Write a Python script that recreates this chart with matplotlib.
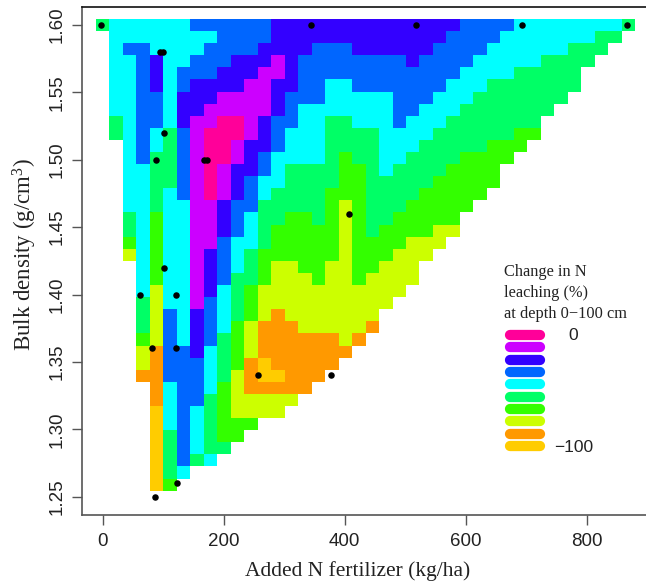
import numpy as np
import matplotlib
matplotlib.use("Agg")
from matplotlib import pyplot as plt
from matplotlib.colors import ListedColormap

W, H = 646, 583

plt.rcParams["font.family"] = ["Liberation Sans", "DejaVu Sans"]
plt.rcParams["mathtext.default"] = "regular"

# level per cell, top row (1.60) first, "." = no value. trailing blanks are left out
grid_rows = [
    "5 444444 333333 22222222222222 3333 44444444 5",
    ". 44444444 3333 2222222222222 3333 4444444 55",
    ". 4 33 4444 3333 2222 333 222222 3333 444444 555",
    ". 44 3 2 44 333 222 1 2 33333333 2 3333 44444 5555",
    ". 44 3 2 4 333 222 11 2 333333333333 4444 55555",
    ". 44 3 2 4 3 2222 11 22 33 44 3333333 444 5555555",
    ". 44 33 4 222 1111 2 333 44444 333 444 5555555",
    ". 44 33 4 22 11111 2 3 4444444 33 444 5555555",
    ". 5 4 33 4 2 11 00 1 2 33 44 55 444 3 444 5555555",
    ". 5 4 3 4 5 3 1 000 1 2 3 444 5555 4444 555555 66",
    ".. 4 3 4 5 3 1 00 1 22 3 444 5555 444 55555 666",
    ".. 4 3 55 3 1 00 1 2 3 4444 5 6 55 44 5555 6666",
    ".. 44 55 3 1 0 1 22 3 4 5555 66 5 4 5555 6666",
    ".. 44 55 3 1 0 1 2 3 44 5555 66 55555 66666",
    ".. 44 5 4 3 1 0 1 2 3 4 5555 666 5555 66666",
    ".. 44 5 44 11 2 33 55555 6 7 6 555 66666",
    ".. 5 4 6 44 11 2 3 4 55 66 5 6 7 6 55 66666",
    ".. 5 4 6 44 11 2 3 4 5 66666 7 6 5 6666 77",
    ".. 6 4 6 44 11 3 44 5 66666 7 6666 777",
    ".. 7 4 6 44 1 2 3 4 5 666666 7 666 777",
    "... 4 6 44 1 2 3 4 5 6 77 66 77 66 777",
    "... 4 6 44 1 2 3 55 6 777 6 77 6 7777",
    "... 4 7 44 1 2 4 5 6 77777777777",
    "... 5 7 44 1 3 4 5 6 7777777777",
    "... 5 7 3 4 2 3 4 5 6 7 8 7777777",
    "... 5 7 3 4 2 3 4 6 7 888 77777 8",
    "... 6 7 3 4 2 3 5 6 7 888888 7 8",
    "... 7 8 33 2 4 5 6 7 8888888",
    "... 7 8 333 4 5 6 8 9 88888",
    "... 8 8 333 4 5 7 8 99 888",
    ".... 8 4 33 4 6 7 88888",
    ".... 8 4 33 5 6 77777",
    ".... 9 4 3 4 5 6 7777",
    ".... 9 4 3 4 5 666",
    ".... 9 5 3 4 5 66",
    ".... 9 5 3 4 55",
    ".... 9 5 3 5 4",
    ".... 9 5 4",
    ".... 9 6",
    "",
]

level_colors = ["#FF0099", "#CC00FF", "#3300FF", "#0066FF", "#00FFFF",
                "#00FF66", "#33FF00", "#CCFF00", "#FF9900", "#FFCC00"]

point_x = [-2, 345, 518, 693, 866, 95, 99, 101, 88, 168, 173, 407,
           101, 61, 121, 82, 121, 257, 377, 123, 86]
point_y = [1.60, 1.60, 1.60, 1.60, 1.60, 1.58, 1.58, 1.52, 1.50, 1.50, 1.50, 1.46,
           1.42, 1.40, 1.40, 1.36, 1.36, 1.34, 1.34, 1.26, 1.25]

x_ticks = [0, 200, 400, 600, 800]
y_ticks = [1.25, 1.30, 1.35, 1.40, 1.45, 1.50, 1.55, 1.60]
legend_title = ["Change in N", "leaching (%)", "at depth 0\u2212100 cm"]

grid = np.full((40, 40), np.nan)
for i, row in enumerate(grid_rows):
    for j, c in enumerate(row.replace(" ", "")):
        if c != ".":
            grid[i, j] = int(c)

fig = plt.figure(figsize=(W / 100, H / 100), dpi=100)
ax = fig.add_axes([82 / W, 1 - 515 / H, (W - 82) / W, (515 - 6.7) / H])

xs = np.linspace(0, 869, 40)
ys = np.linspace(1.60, 1.25, 40)
ax.pcolormesh(xs, ys, np.ma.masked_invalid(grid), shading="nearest",
              cmap=ListedColormap(level_colors), vmin=-0.5, vmax=9.5)
ax.scatter(point_x, point_y, s=22, color="black", zorder=3, linewidths=0)

ax.set_xlim((82 - 102.7) / 0.605, (W - 102.7) / 0.605)
ax.set_ylim(1.2364, 1.6136)

ax.spines["right"].set_visible(False)
ax.spines["top"].set_color("#111111")
ax.spines["top"].set_linewidth(1.2)
for side in ["left", "bottom"]:
    ax.spines[side].set_color("#555555")
    ax.spines[side].set_linewidth(1.2)

ax.set_xticks(x_ticks)
ax.set_yticks(y_ticks)
ax.set_yticklabels([f"{v:.2f}" for v in y_ticks], rotation=90, va="center")
ax.tick_params(axis="both", length=7, width=1, color="#555555", labelsize=13.5, labelcolor="#222222")
ax.tick_params(axis="x", pad=6)
ax.tick_params(axis="y", pad=4.5)

fig.text(358 / W, 1 - 571 / H, "Added N fertilizer (kg/ha)", family="Liberation Serif",
         fontsize=15.5, ha="center", va="center", color="#222222")
fig.text(25 / W, 1 - 255 / H, "Bulk density (g/cm$^{3}$)", family="Liberation Serif",
         fontsize=16.5, rotation=90, ha="center", va="center", color="#222222")

# legend
for line, ypx in zip(legend_title, [272, 293, 314]):
    fig.text(504 / W, 1 - ypx / H, line, family="Liberation Serif", fontsize=11.8,
             ha="left", va="center", color="#222222")

lax = fig.add_axes([500 / W, 1 - 452 / H, 50 / W, 123 / H])
lax.axis("off")
lax.set_xlim(0, 50)
lax.set_ylim(9.5, -0.5)
for i, c in enumerate(level_colors):
    lax.plot([10, 40], [i, i], color=c, lw=7.4, solid_capstyle="round")

fig.text(573 / W, 1 - 336 / H, "0", fontsize=12.5, ha="center", va="center", color="#222222")
fig.text(574 / W, 1 - 447 / H, "\u2212100", fontsize=12.5, ha="center", va="center", color="#222222")

fig.savefig("out.png", dpi=100)
